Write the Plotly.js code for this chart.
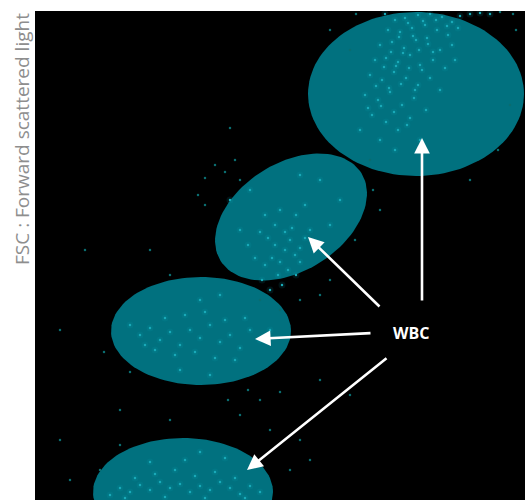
<!DOCTYPE html>
<html><head><meta charset="utf-8">
<script src="https://cdn.plot.ly/plotly-3.0.1.min.js"></script>
<style>html,body{margin:0;padding:0;background:#fff}#chart{width:525px;height:500px}</style>
</head><body><div id="chart"></div>
<script>
// Gate ellipses: centre x, centre y, semi-major, semi-minor, tilt (deg)
const gateCx = [416, 291, 201, 183];
const gateCy = [94, 217, 331, 492];
const gateA = [108, 83, 90, 90];
const gateB = [82, 54, 54, 54];
const gateTilt = [0, 32, 0, 0];

// Dense cell events inside gates
const denseX = [395,405,418,430,442,452,460,388,400,412,425,437,448,458,380,392,404,416,428,440,452,375,386,398,410,420,433,445,370,382,394,406,418,430,365,378,390,402,414,426,372,386,398,410,360,420,395,380,440,455,470,480,490,385,
408,423,436,447,399,413,427,391,403,419,433,384,396,409,422,376,389,401,415,368,381,394,407,
265,272,280,288,295,300,285,275,268,290,305,278,262,296,282,270,300,255,292,310,285,248,260,275,296,305,280,265,240,250,320,340,230,300,330,
140,150,160,170,180,190,200,210,220,230,240,250,155,175,195,215,235,165,185,205,225,245,145,260,130,270,200,220,180,210,
110,120,130,140,150,160,170,180,190,200,210,220,230,240,250,260,135,155,175,195,215,235,125,165,205,245,185,225,150,200];
const denseY = [20,18,15,14,17,22,16,30,32,28,25,30,35,28,45,42,48,40,44,50,45,60,58,62,55,65,60,68,75,80,72,78,85,78,95,100,92,105,98,110,115,122,130,118,130,140,150,140,90,60,14,13,14,14,
23,21,20,26,37,36,38,52,53,50,52,67,66,68,70,86,88,84,90,108,106,112,125,
265,258,262,270,255,248,250,245,238,240,238,275,280,275,285,290,262,258,228,230,232,245,232,225,215,205,210,215,230,190,180,200,200,175,225,
335,328,340,332,345,330,338,325,342,335,348,330,350,355,352,358,360,318,315,312,320,318,345,340,325,330,300,295,370,375,
495,488,492,485,490,482,488,484,492,486,490,482,488,494,486,492,478,474,470,476,472,478,498,497,498,498,460,458,462,452];

// Sparse events outside gates
const sparseX = [130,104,280,260,240,170,120,270,300,310,290,100,60,228,248,205,215,225,198,205,240,235,373,355,370,330,320,300,280,260,150,170,350,330,356,516,510,498,470,500,513,230,380,120,70,350,320,60,85];
const sparseY = [372,352,392,400,415,420,410,430,440,460,470,470,440,400,390,178,165,172,195,205,180,160,190,240,160,280,295,300,310,300,250,275,50,30,14,30,105,150,180,12,14,128,210,445,480,395,380,330,250];

// Arrows: tail -> head, and label
const arrowTailX = [422, 381, 372, 388];
const arrowTailY = [302, 308, 333, 357];
const arrowHeadX = [422, 308, 255, 247];
const arrowHeadY = [138, 237, 339, 470];
const labelText = "WBC";
const labelPos = [411, 333];
const yTitle = "FSC : Forward scattered light";

function ellipse(cx, cy, a, b, tiltDeg) {
  const t = tiltDeg * Math.PI / 180, xs = [], ys = [];
  for (let i = 0; i <= 120; i++) {
    const u = 2 * Math.PI * i / 120;
    const ex = a * Math.cos(u), ey = b * Math.sin(u);
    xs.push(cx + ex * Math.cos(t) + ey * Math.sin(t));
    ys.push(cy - ex * Math.sin(t) + ey * Math.cos(t));
  }
  return [xs, ys];
}

const traces = [];
for (let i = 0; i < gateCx.length; i++) {
  const [xs, ys] = ellipse(gateCx[i], gateCy[i], gateA[i], gateB[i], gateTilt[i]);
  traces.push({x: xs, y: ys, mode: 'lines', fill: 'toself', fillcolor: '#01717f',
    line: {width: 0, color: '#01717f'}, hoverinfo: 'skip', showlegend: false});
}
traces.push({x: sparseX, y: sparseY, mode: 'markers', marker: {size: 2.5, color: '#0b6d70'}, showlegend: false, hoverinfo: 'skip'});
traces.push({x: denseX, y: denseY, mode: 'markers', marker: {size: 7, color: '#12a3b3', opacity: 0.12}, showlegend: false, hoverinfo: 'skip'});
traces.push({x: denseX, y: denseY, mode: 'markers', marker: {size: 2.5, color: '#1aaab8'}, showlegend: false, hoverinfo: 'skip'});

const annotations = arrowTailX.map((_, i) => ({
  x: arrowHeadX[i], y: arrowHeadY[i], ax: arrowTailX[i], ay: arrowTailY[i],
  xref: 'x', yref: 'y', axref: 'x', ayref: 'y', text: '', showarrow: true,
  arrowhead: 2, arrowsize: 1.2, arrowwidth: 2.6, arrowcolor: '#ffffff'
}));
annotations.push({x: labelPos[0], y: labelPos[1], xref: 'x', yref: 'y', text: '<b>' + labelText + '</b>',
  showarrow: false, font: {family: 'Open Sans', size: 16, color: '#ffffff'}});
annotations.push({x: 22, y: 11, xref: 'paper', yref: 'paper', xanchor: 'center', yanchor: 'top',
  text: yTitle, textangle: -90, showarrow: false,
  font: {family: 'Open Sans', size: 19, color: '#8e8e8e'}});

const layout = {
  width: 525, height: 500,
  margin: {l: 35, r: 0, t: 11, b: 0},
  paper_bgcolor: '#ffffff', plot_bgcolor: '#000000',
  xaxis: {range: [35, 525], showgrid: false, zeroline: false, showticklabels: false, ticks: '', showline: false},
  yaxis: {range: [500, 11], showgrid: false, zeroline: false, showticklabels: false, ticks: '', showline: false},
  annotations: annotations,
  showlegend: false
};
// place the rotated axis title near the top-left, as in the reference
layout.annotations[layout.annotations.length - 1].xref = 'paper';
layout.annotations[layout.annotations.length - 1].x = (22 - 35) / 490;
layout.annotations[layout.annotations.length - 1].y = 1.0;
Plotly.newPlot('chart', traces, layout, {displayModeBar: false, staticPlot: true});
</script></body></html>
